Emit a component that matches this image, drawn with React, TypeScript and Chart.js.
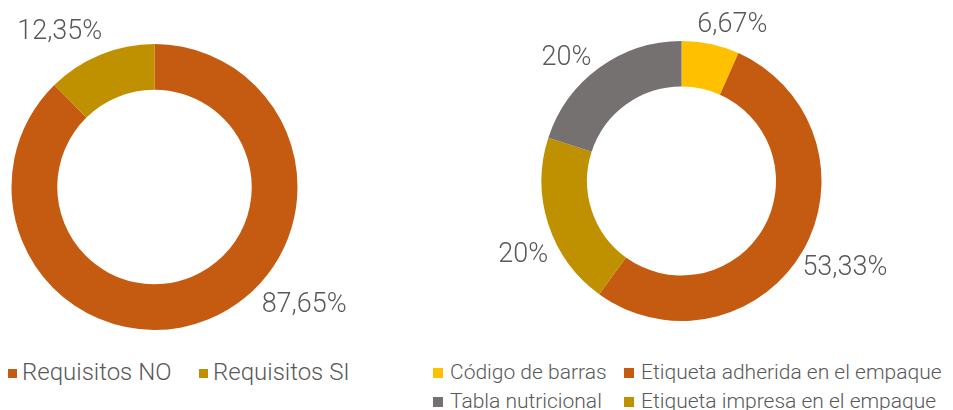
import React, { useEffect, useRef } from "react";
import { Chart, registerables } from "chart.js";

Chart.register(...registerables);

const leftLabels = ["Requisitos NO", "Requisitos SI"];
const leftValues = [87.65, 12.35];
const leftColors = ["#C55A11", "#BF9000"];

const rightLabels = [
  "Código de barras",
  "Etiqueta adherida en el empaque",
  "Etiqueta impresa en el empaque",
  "Tabla nutricional",
];
const rightValues = [6.67, 53.33, 20, 20];
const rightColors = ["#FFC000", "#C55A11", "#BF9000", "#767171"];

// legend order as shown (row by row)
const rightLegendOrder = [0, 1, 3, 2];

const TEXT = "#595959";
const FONT = "Roboto";

const fmt = (v: number) => String(v).replace(".", ",") + "%";

// label placement: fraction along the arc and distance factor of outer radius
const outsideLabels = {
  id: "outsideLabels",
  afterDatasetsDraw(chart: any, _args: any, opts: any) {
    const ctx = chart.ctx;
    const meta = chart.getDatasetMeta(0);
    const data = chart.data.datasets[0].data as number[];
    ctx.save();
    ctx.font = `300 ${opts.size}px ${FONT}`;
    ctx.fillStyle = TEXT;
    ctx.textAlign = "center";
    ctx.textBaseline = "middle";
    meta.data.forEach((arc: any, i: number) => {
      const p = arc.getProps(["x", "y", "startAngle", "endAngle", "outerRadius"], true);
      const frac = opts.fracs[i];
      const k = opts.dists[i];
      const a = p.startAngle + (p.endAngle - p.startAngle) * frac;
      const x = p.x + Math.cos(a) * p.outerRadius * k;
      const y = p.y + Math.sin(a) * p.outerRadius * k;
      ctx.fillText(fmt(data[i]), x, y);
    });
    ctx.restore();
  },
};

function Donut(props: {
  labels: string[];
  values: number[];
  colors: string[];
  width: number;
  height: number;
  padding: { left: number; top: number; right: number; bottom: number };
  cutout: string;
  fracs: number[];
  dists: number[];
  style: React.CSSProperties;
}) {
  const ref = useRef<HTMLCanvasElement>(null);
  useEffect(() => {
    let chart: Chart | null = null;
    let cancelled = false;
    const make = () => {
      if (cancelled || !ref.current) return;
      chart = new Chart(ref.current, {
        type: "doughnut",
        data: {
          labels: props.labels,
          datasets: [
            {
              data: props.values,
              backgroundColor: props.colors,
              borderWidth: 0,
            },
          ],
        },
        options: {
          responsive: false,
          animation: false,
          cutout: props.cutout,
          layout: { padding: props.padding },
          plugins: {
            legend: { display: false },
            tooltip: { enabled: false },
            outsideLabels: { fracs: props.fracs, dists: props.dists, size: 27 },
          } as any,
        },
        plugins: [outsideLabels],
      });
    };
    const fonts: any = (document as any).fonts;
    if (fonts && fonts.load) {
      fonts.load(`300 27px ${FONT}`).then(make, make);
    } else make();
    return () => {
      cancelled = true;
      if (chart) chart.destroy();
    };
  }, []);
  return (
    <canvas
      ref={ref}
      width={props.width}
      height={props.height}
      style={{ position: "absolute", ...props.style }}
    />
  );
}

function LegendItem(props: {
  color: string;
  label: string;
  left: number;
  top: number;
  box: number;
  gap: number;
  size: number;
}) {
  return (
    <div
      style={{
        position: "absolute",
        left: props.left,
        top: props.top,
        height: 24,
        display: "flex",
        alignItems: "center",
        whiteSpace: "nowrap",
        fontFamily: FONT,
        fontWeight: 300,
        fontSize: props.size,
        lineHeight: "24px",
        color: TEXT,
      }}
    >
      <span
        style={{
          display: "inline-block",
          width: props.box,
          height: props.box,
          background: props.color,
          marginRight: props.gap,
          marginTop: 2,
        }}
      />
      <span>{props.label}</span>
    </div>
  );
}

export default function App() {
  return (
    <div
      style={{
        position: "absolute",
        left: 0,
        top: 0,
        width: 953,
        height: 410,
        background: "#fff",
        overflow: "hidden",
      }}
    >
      <Donut
        labels={leftLabels}
        values={leftValues}
        colors={leftColors}
        width={476}
        height={350}
        padding={{ left: 11.5, top: 44, right: 178.5, bottom: 20 }}
        cutout="68%"
        fracs={[0.407, 0.29]}
        dists={[1.336, 1.266]}
        style={{ left: 0, top: 0 }}
      />
      <Donut
        labels={rightLabels}
        values={rightValues}
        colors={rightColors}
        width={477}
        height={350}
        padding={{ left: 65.5, top: 41, right: 131.5, bottom: 29 }}
        cutout="67.5%"
        fracs={[0.754, 0.49, 0.4, 0.4]}
        dists={[1.17, 1.323, 1.25, 1.2]}
        style={{ left: 476, top: 0 }}
      />
      <LegendItem color={leftColors[0]} label={leftLabels[0]} left={8} top={360} box={9} gap={5} size={24} />
      <LegendItem color={leftColors[1]} label={leftLabels[1]} left={199} top={360} box={9} gap={5} size={24} />
      {rightLegendOrder.map((idx, j) => (
        <LegendItem
          key={idx}
          color={rightColors[idx]}
          label={rightLabels[idx]}
          left={j % 2 === 0 ? 433 : 624}
          top={j < 2 ? 360 : 389}
          box={10}
          gap={7}
          size={21}
        />
      ))}
    </div>
  );
}
